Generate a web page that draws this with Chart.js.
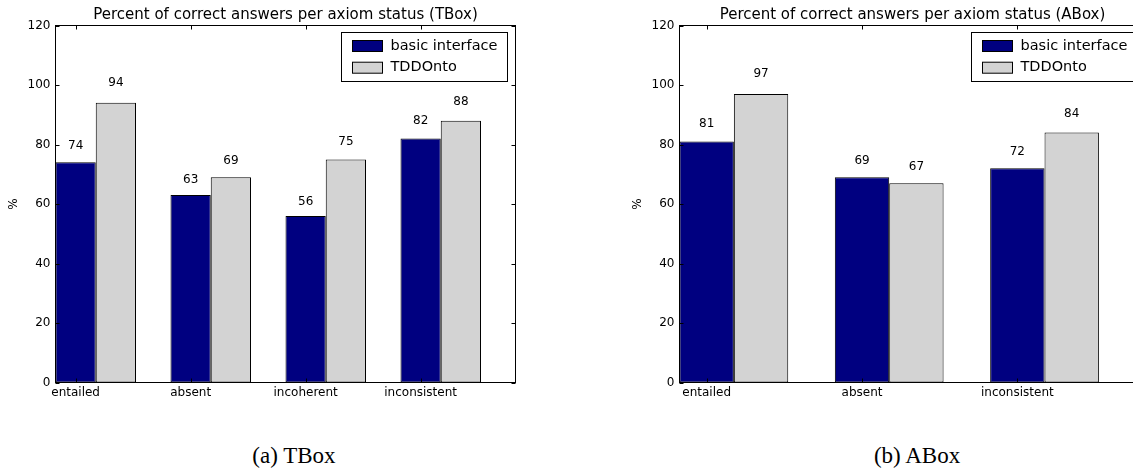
<!DOCTYPE html>
<html><head><meta charset="utf-8">
<script src="https://cdn.jsdelivr.net/npm/chart.js@4.4.0/dist/chart.umd.min.js"></script>
<style>
html,body{margin:0;padding:0;background:#fff;width:1133px;height:468px;overflow:hidden;position:relative}
#c1{position:absolute;left:0;top:0}
#c2{position:absolute;left:600px;top:0}
.cap{position:absolute;top:444px;width:200px;text-align:center;font-family:'Liberation Serif',serif;font-size:23px;line-height:23px;color:#000;white-space:nowrap}
</style></head><body>
<canvas id="c1" width="540" height="420"></canvas>
<canvas id="c2" width="560" height="420"></canvas>
<div class="cap" style="left:194px">(a) TBox</div>
<div class="cap" style="left:817px">(b) ABox</div>
<script>
const seriesNames = ['basic interface', 'TDDOnto'];
const seriesColors = ['#000080', '#d3d3d3'];
const tboxCategories = ['entailed', 'absent', 'incoherent', 'inconsistent'];
const tboxBasic = [74, 63, 56, 82];
const tboxTDDOnto = [94, 69, 75, 88];
const aboxCategories = ['entailed', 'absent', 'inconsistent'];
const aboxBasic = [81, 69, 72];
const aboxTDDOnto = [97, 67, 84];
const yTicks = [0, 20, 40, 60, 80, 100, 120];
const titleT = 'Percent of correct answers per axiom status (TBox)';
const titleA = 'Percent of correct answers per axiom status (ABox)';
const BAR_W = 0.35;
const FONT = 'DejaVu Sans';

const decor = {
  id: 'decor',
  afterDatasetsDraw(chart) {
    const {ctx, chartArea: a, scales: {x, y}} = chart;
    ctx.save();
    // value labels (bottom of text box at 1.05 * value)
    ctx.font = '12px "' + FONT + '"';
    ctx.fillStyle = '#000';
    ctx.textAlign = 'center';
    ctx.textBaseline = 'alphabetic';
    chart.data.datasets.forEach((ds, di) => {
      chart.getDatasetMeta(di).data.forEach((bar, i) => {
        const v = ds.data[i].y;
        ctx.fillText(String(v), bar.x, y.getPixelForValue(v * 1.05) - 2.8);
      });
    });
    // frame
    ctx.strokeStyle = '#000';
    ctx.lineWidth = 1;
    ctx.strokeRect(a.left, a.top, a.right - a.left, a.bottom - a.top);
    // inward ticks
    const tl = 4;
    ctx.beginPath();
    y.ticks.forEach(t => {
      const py = Math.round(y.getPixelForValue(t.value)) + 0.5;
      ctx.moveTo(a.left, py); ctx.lineTo(a.left + tl, py);
      ctx.moveTo(a.right, py); ctx.lineTo(a.right - tl, py);
    });
    x.ticks.forEach(t => {
      const px = Math.round(x.getPixelForValue(t.value)) + 0.5;
      ctx.moveTo(px, a.top); ctx.lineTo(px, a.top + tl);
      ctx.moveTo(px, a.bottom); ctx.lineTo(px, a.bottom - tl);
    });
    ctx.stroke();
    // legend inside, upper right
    const lw = 166, lh = 49;
    const lx = a.right - 8 - lw, ly = a.top + 7;
    ctx.fillStyle = '#fff';
    ctx.fillRect(lx, ly, lw, lh);
    ctx.strokeStyle = '#000';
    ctx.strokeRect(lx, ly, lw, lh);
    ctx.font = '14.5px "' + FONT + '"';
    ctx.textAlign = 'left';
    ctx.textBaseline = 'middle';
    chart.data.datasets.forEach((ds, di) => {
      const cy = ly + 13.5 + di * 21.7;
      ctx.fillStyle = ds.backgroundColor;
      ctx.fillRect(lx + 11, cy - 5.5, 30, 11);
      ctx.strokeStyle = '#000';
      ctx.strokeRect(lx + 11, cy - 5.5, 30, 11);
      ctx.fillStyle = '#000';
      ctx.fillText(ds.label, lx + 49, cy);
    });
    ctx.restore();
  }
};

function makeChart(id, cats, basic, tdd, title, yAxisWidth, padRight) {
  const series = [basic, tdd];
  return new Chart(document.getElementById(id), {
    type: 'bar',
    data: {
      datasets: series.map((vals, s) => ({
        label: seriesNames[s],
        data: cats.map((c, i) => ({x: i + BAR_W, y: vals[i]})),
        backgroundColor: seriesColors[s],
        borderColor: '#000',
        borderWidth: 1,
        borderSkipped: false,
        categoryPercentage: 2 * BAR_W,
        barPercentage: 1.0
      }))
    },
    options: {
      responsive: false,
      animation: false,
      layout: {padding: {left: 0, right: padRight, top: 0, bottom: 0}},
      plugins: {
        legend: {display: false},
        tooltip: {enabled: false},
        title: {
          display: true, text: title, fullSize: false, color: '#000',
          font: {family: FONT, size: 15, weight: 'normal', lineHeight: 1.2},
          padding: {top: 6, bottom: 1.5}
        }
      },
      scales: {
        x: {
          type: 'linear', min: 0, max: cats.length, offset: false,
          grid: {display: false, drawTicks: false},
          border: {display: false},
          afterBuildTicks: s => { s.ticks = cats.map((c, i) => ({value: i + BAR_W / 2})); },
          ticks: {
            callback: (v, i) => cats[i], color: '#000', padding: 3,
            font: {family: FONT, size: 12}, maxRotation: 0, autoSkip: false
          },
          afterFit: s => { s.height = 37.5; }
        },
        y: {
          min: 0, max: 120,
          grid: {display: false, drawTicks: false},
          border: {display: false},
          afterBuildTicks: s => { s.ticks = yTicks.map(v => ({value: v})); },
          ticks: {color: '#000', padding: 5, font: {family: FONT, size: 12}},
          title: {
            display: true, text: '%', color: '#000',
            font: {family: FONT, size: 12},
            padding: {top: yAxisWidth - 55.5 + 6.8, bottom: 0}
          },
          afterFit: s => { s.width = yAxisWidth; }
        }
      }
    },
    plugins: [decor]
  });
}

makeChart('c1', tboxCategories, tboxBasic, tboxTDDOnto, titleT, 55.5, 24.5);
makeChart('c2', aboxCategories, aboxBasic, aboxTDDOnto, titleA, 79.5, 14.5);
</script>
</body></html>
